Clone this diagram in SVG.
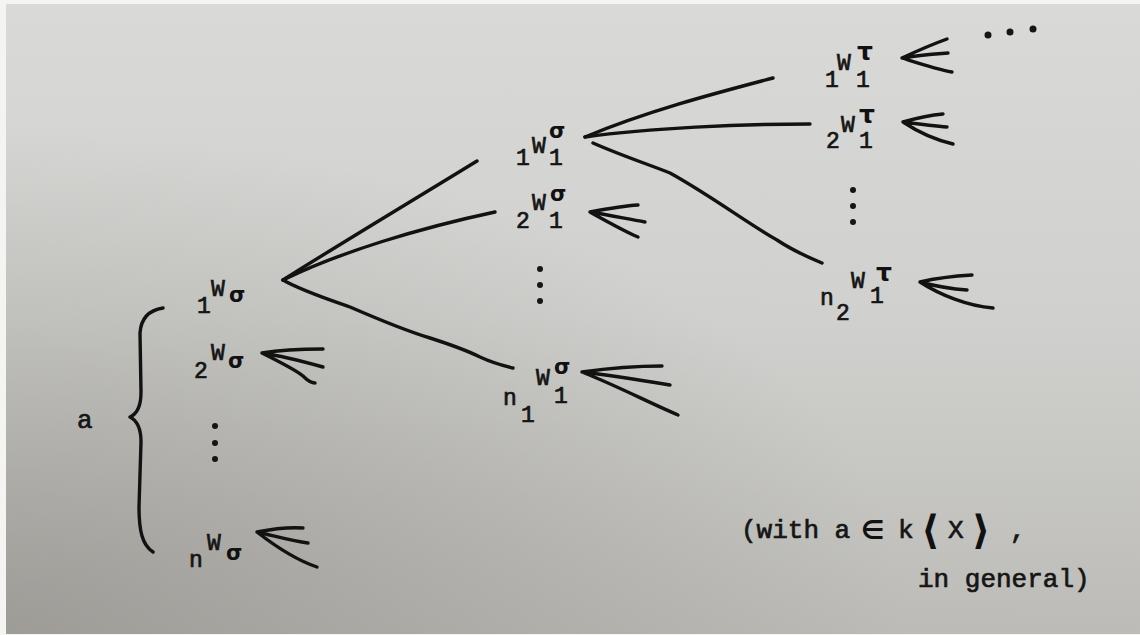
<svg xmlns="http://www.w3.org/2000/svg" width="1140" height="635" viewBox="0 0 1140 635">
<defs>
<linearGradient id="paper" x1="0" y1="0" x2="0" y2="1">
<stop offset="0" stop-color="#d9dad7"/>
<stop offset="0.5" stop-color="#d0d1ce"/>
<stop offset="1" stop-color="#bcbbb7"/>
</linearGradient>
<radialGradient id="shade" cx="0" cy="1" r="0.8" gradientUnits="objectBoundingBox">
<stop offset="0" stop-color="#8a8782" stop-opacity="0.6"/>
<stop offset="1" stop-color="#8a8782" stop-opacity="0"/>
</radialGradient>
<style>
.ink{fill:none;stroke:#121212;stroke-width:3.4;stroke-linecap:round;stroke-linejoin:round}
.tw{font-family:"Liberation Mono","Courier New",monospace;font-size:23px;fill:#151515;stroke:#151515;stroke-width:0.7}
.big{font-size:26px}
.hw{font-family:"DejaVu Sans","Liberation Sans",sans-serif;font-weight:bold;fill:#111}
.dot{fill:#151515}
</style>
</defs>
<rect x="0" y="0" width="1140" height="635" fill="#f4f4f2"/>
<rect x="6" y="4" width="1134" height="630" fill="url(#paper)"/>
<rect x="6" y="4" width="1134" height="630" fill="url(#shade)"/>

<g id="connectors">
<path class="ink" d="M283,280 C330,250 420,196 477,161"/>
<path class="ink" d="M283,280 C340,252 420,228 495,212"/>
<path class="ink" d="M283,280 C300,290 330,300 350,307 C380,320 410,332 430,338 C455,346 470,352 480,357 C495,364 505,366 513,368"/>
<path class="ink" d="M585,137 C650,110 720,92 773,78"/>
<path class="ink" d="M585,137 C650,128 740,124 810,124"/>
<path class="ink" d="M593,143 C620,155 650,165 670,173 C710,195 750,225 777,240 C795,252 810,258 822,263"/>
<path id="brace" class="ink" d="M163,308 C150,310 141,318 140,333 L141,392 C141,406 137,414 130,417 C138,421 141,430 141,442 L139,507 C139,530 142,545 153,552"/>
</g>

<g id="back-arrows">
<path class="ink" d="M262,353 C280,350 300,349 323,349 M262,353 C282,356 305,362 323,367 M262,353 C280,362 296,370 303,376 C307,380 311,383 315,383"/>
<path class="ink" d="M257,532 C272,529 288,527 303,528 M257,532 C275,536 292,541 308,543 M257,532 C275,546 296,560 317,567"/>
<path class="ink" d="M590,212 C606,209 622,206 638,205 M590,212 C608,215 628,219 645,222 M590,212 C608,222 624,231 638,237"/>
<path class="ink" d="M582,372 C610,368 640,366 662,366 M582,372 C610,375 640,380 670,385 M582,372 C615,385 650,403 678,415"/>
<path class="ink" d="M902,58 C917,51 933,44 947,39 M902,58 C918,55 934,54 948,53 M902,58 C918,63 936,69 952,72"/>
<path class="ink" d="M903,122 C917,118 931,115 943,114 M903,122 C918,124 933,126 947,127 M903,122 C918,132 936,140 953,144"/>
<path class="ink" d="M920,282 C937,278 955,276 972,275 M920,282 C935,286 952,289 967,290 M920,282 C940,295 968,306 993,308"/>
</g>

<g id="node-a"><text class="tw big" x="77" y="428">a</text></g>

<g id="node-1Ws">
<text class="tw" x="197" y="313">1</text><text class="tw" x="211" y="296">W</text>
<text class="hw" x="229" y="302" font-size="21">σ</text>
</g>
<g id="node-2Ws">
<text class="tw" x="194" y="378">2</text><text class="tw" x="211" y="360">W</text>
<text class="hw" x="228" y="368" font-size="21">σ</text>
</g>
<g id="node-vdots-left">
<circle class="dot" cx="215" cy="426" r="3"/><circle class="dot" cx="215" cy="443" r="3"/><circle class="dot" cx="215" cy="459" r="3"/>
</g>
<g id="node-nWs">
<text class="tw" x="189" y="567">n</text><text class="tw" x="207" y="550">W</text>
<text class="hw" x="226" y="560" font-size="21">σ</text>
</g>

<g id="node-1W1s">
<text class="tw" x="516" y="165">1</text><text class="tw" x="532" y="153">W</text><text class="tw" x="549" y="165">1</text>
<text class="hw" x="549" y="138" font-size="21">σ</text>
</g>
<g id="node-2W1s">
<text class="tw" x="516" y="228">2</text><text class="tw" x="532" y="210">W</text><text class="tw" x="549" y="228">1</text>
<text class="hw" x="550" y="201" font-size="21">σ</text>
</g>
<g id="node-vdots-mid">
<circle class="dot" cx="540" cy="269" r="3"/><circle class="dot" cx="540" cy="285" r="3"/><circle class="dot" cx="540" cy="301" r="3"/>
</g>
<g id="node-n1W1s">
<text class="tw" x="503" y="405">n</text><text class="tw" x="521" y="422">1</text><text class="tw" x="536" y="385">W</text><text class="tw" x="554" y="403">1</text>
<text class="hw" x="554" y="374" font-size="21">σ</text>
</g>

<g id="node-1W1t">
<text class="tw" x="825" y="87">1</text><text class="tw" x="837" y="70">W</text><text class="tw" x="856" y="87">1</text>
<text class="hw" x="857" y="60" font-size="25">τ</text>
</g>
<g id="node-2W1t">
<text class="tw" x="826" y="148">2</text><text class="tw" x="841" y="132">W</text><text class="tw" x="859" y="148">1</text>
<text class="hw" x="859" y="123" font-size="25">τ</text>
</g>
<g id="node-vdots-right">
<circle class="dot" cx="853" cy="190" r="3"/><circle class="dot" cx="853" cy="206" r="3"/><circle class="dot" cx="853" cy="222" r="3"/>
</g>
<g id="node-n2W1t">
<text class="tw" x="820" y="305">n</text><text class="tw" x="836" y="320">2</text><text class="tw" x="851" y="288">W</text><text class="tw" x="870" y="303">1</text>
<text class="hw" x="876" y="281" font-size="25">τ</text>
</g>
<g id="node-hdots">
<circle class="dot" cx="988" cy="35" r="3.5"/><circle class="dot" cx="1010" cy="32" r="3.5"/><circle class="dot" cx="1033" cy="29" r="3.5"/>
</g>

<g id="note">
<text class="tw big" x="741" y="538">(with a</text>
<text class="hw" x="861" y="539" font-size="26">∈</text>
<text class="tw big" x="898" y="538">k</text>
<text class="hw" x="921" y="544" font-size="40">⟨</text>
<text class="tw big" x="948" y="538">X</text>
<text class="hw" x="972" y="544" font-size="40">⟩</text>
<text class="tw big" x="1010" y="538">,</text>
<text class="tw big" x="918" y="587">in general)</text>
</g>
</svg>
